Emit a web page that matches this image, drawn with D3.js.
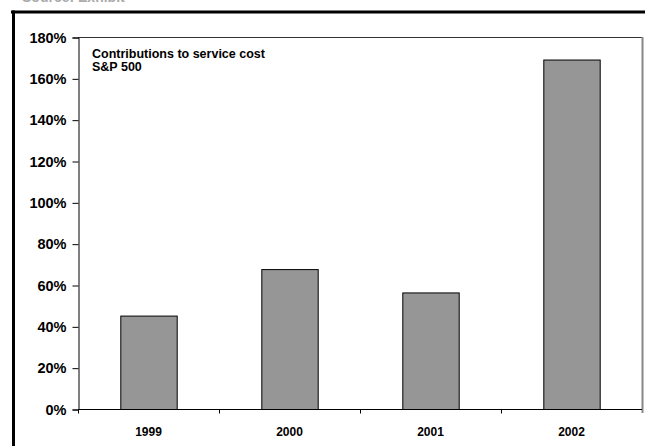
<!DOCTYPE html>
<html>
<head>
<meta charset="utf-8">
<script src="https://cdn.jsdelivr.net/npm/d3@7"></script>
<style>
  html, body { margin: 0; padding: 0; background: #fff; }
  svg { display: block; }
  text { font-family: Arial, "Liberation Sans", sans-serif; font-weight: bold; }
</style>
</head>
<body>
<svg id="chart" width="645" height="446"></svg>
<script>
const categories = ["1999", "2000", "2001", "2002"];
const values = [45.2, 67.7, 56.4, 169.1];
const yTicks = [0, 20, 40, 60, 80, 100, 120, 140, 160, 180];
const titleLines = ["Contributions to service cost", "S&P 500"];

const svg = d3.select("#chart");
const W = 645, H = 446;
const m = { left: 78, top: 37, right: 3, bottom: 37 };
const x0 = m.left, x1 = W - m.right, y0 = H - m.bottom, y1 = m.top;

// cut-off text at very top (only the descending bottoms are visible)
svg.append("text").attr("x", 22).attr("y", 1.5)
  .attr("font-size", 14).attr("fill", "#aaa").text("Source: Exhibit");

// frame lines
svg.append("line").attr("x1", 11).attr("x2", W).attr("y1", 12).attr("y2", 12)
  .attr("stroke", "#000").attr("stroke-width", 3);
svg.append("line").attr("x1", 13.5).attr("x2", 13.5).attr("y1", 10.5).attr("y2", H)
  .attr("stroke", "#000").attr("stroke-width", 3);

const x = d3.scaleBand().domain(categories).range([x0, x1]).paddingInner(0).paddingOuter(0);
const xb = d3.scaleBand().domain(categories).range([x0, x1]).paddingInner(0.6).paddingOuter(0.3);
const y = d3.scaleLinear().domain([0, 180]).range([y0, y1]);

// plot border (top and right)
svg.append("line").attr("x1", x0).attr("x2", x1).attr("y1", y1 + 0.5).attr("y2", y1 + 0.5)
  .attr("stroke", "#333").attr("stroke-width", 1);
svg.append("line").attr("x1", x1 + 0.5).attr("x2", x1 + 0.5).attr("y1", y1).attr("y2", y0 + 4)
  .attr("stroke", "#888").attr("stroke-width", 2);

// bars
svg.append("g").selectAll("rect").data(values).join("rect")
  .attr("x", (d, i) => xb(categories[i]) + 0.5)
  .attr("y", d => y(d) + 0.5)
  .attr("width", xb.bandwidth())
  .attr("height", d => y0 - y(d))
  .attr("fill", "#969696")
  .attr("stroke", "#000")
  .attr("stroke-width", 1);

// y axis
const yAxis = d3.axisLeft(y).tickValues(yTicks).tickFormat(d => d + "%").tickSize(6).tickPadding(6);
const gy = svg.append("g").attr("transform", `translate(${x0 + 0.5},0.5)`).call(yAxis);
gy.selectAll("text").attr("font-size", 14.5).attr("fill", "#000")
  .style("font-family", "Arial, 'Liberation Sans', sans-serif").style("font-weight", "bold");
gy.select(".domain").attr("stroke", "#000");
gy.selectAll(".tick line").attr("stroke", "#000");

// x axis: ticks at band boundaries, labels at centers
const gx = svg.append("g").attr("transform", `translate(0,${y0 + 0.5})`);
gx.append("line").attr("x1", x0).attr("x2", x1).attr("stroke", "#000");
gx.selectAll("line.tk").data(categories).join("line").attr("class", "tk")
  .attr("x1", d => x(d) + 0.5).attr("x2", d => x(d) + 0.5)
  .attr("y1", 0).attr("y2", 4).attr("stroke", "#000");
gx.selectAll("text").data(categories).join("text")
  .attr("x", d => x(d) + x.bandwidth() / 2)
  .attr("y", 26)
  .attr("text-anchor", "middle")
  .attr("font-size", 12)
  .attr("fill", "#000")
  .text(d => d);

// title
svg.append("g").selectAll("text").data(titleLines).join("text")
  .attr("x", 92).attr("y", (d, i) => 58 + i * 13)
  .attr("font-size", 12.5).attr("fill", "#000").text(d => d);
</script>
</body>
</html>
